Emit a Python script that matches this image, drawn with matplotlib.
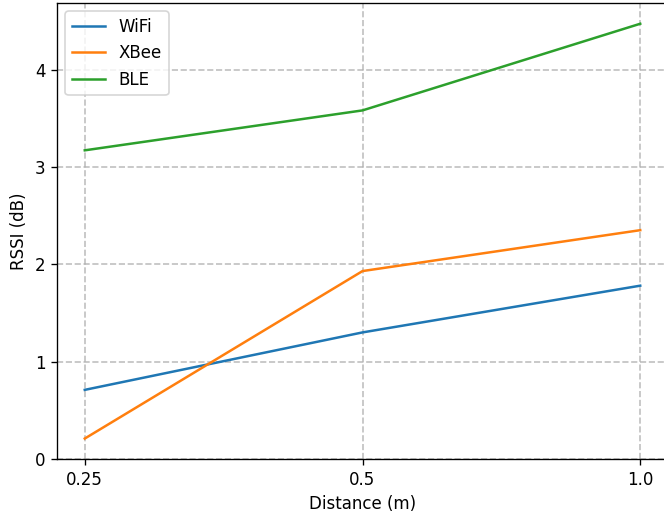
import matplotlib
matplotlib.use("Agg")
import matplotlib.pyplot as plt
import numpy as np

# Datos
distancias = ["0.25", "0.5", "1.0"]
wifi = [0.71, 1.30, 1.78]
xbee = [0.21, 1.93, 2.35]
ble = [3.17, 3.58, 4.47]

DPI = 120
fig = plt.figure(figsize=(664 / DPI, 516 / DPI), dpi=DPI)
ax = fig.add_axes([57 / 664, 57 / 516, (668 - 57) / 664, (459 - 3) / 516])

x = np.arange(len(distancias))
ax.plot(x, wifi, label="WiFi")
ax.plot(x, xbee, label="XBee")
ax.plot(x, ble, label="BLE")

ax.set_xticks(x)
ax.set_xticklabels(distancias)
ax.set_xlim(-0.1, 2.1)
ax.set_ylim(bottom=0)
ax.set_xlabel("Distance (m)")
ax.set_ylabel("RSSI (dB)")
ax.grid(True, linestyle="--", color="#b0b0b0", alpha=0.8, linewidth=1)
ax.legend(loc="upper left")

fig.savefig("out.png", dpi=DPI)
